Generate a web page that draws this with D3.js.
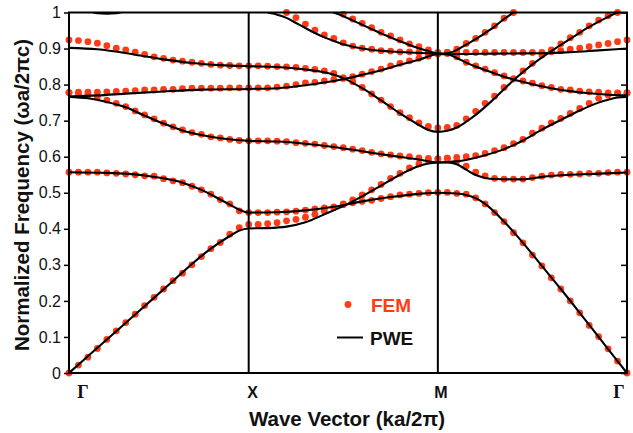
<!DOCTYPE html>
<html>
<head>
<meta charset="utf-8">
<script src="https://cdn.jsdelivr.net/npm/d3@7"></script>
<style>
html,body{margin:0;padding:0;background:#fff;}
svg{display:block;}
</style>
</head>
<body>
<svg id="chart" width="633" height="433"></svg>
<script>
// ---- k-path (index along Γ-X-M-Γ) ----
const kTicks = [0, 19, 39, 59];
const kLabels = ["Γ", "X", "M", "Γ"];
const yTicks = [0, 0.1, 0.2, 0.3, 0.4, 0.5, 0.6, 0.7, 0.8, 0.9, 1];
const yTickLabels = ["0", "0.1", "0.2", "0.3", "0.4", "0.5", "0.6", "0.7", "0.8", "0.9", "1"];

// ---- FEM results (dots), one value per k index 0..59 ----
const femA = [
0, 0.022, 0.044, 0.068, 0.093, 0.117, 0.140, 0.163, 0.187, 0.210,
0.233, 0.256, 0.277, 0.300, 0.323, 0.345, 0.362, 0.385, 0.403, 0.412,
0.412, 0.414, 0.417, 0.422, 0.426, 0.432, 0.440, 0.449, 0.459, 0.469,
0.480, 0.494, 0.508, 0.523, 0.540, 0.554, 0.569, 0.580, 0.589, 0.594,
0.596, 0.598, 0.600, 0.603, 0.609, 0.617, 0.625, 0.636, 0.648, 0.665,
0.679, 0.694, 0.706, 0.720, 0.734, 0.748, 0.762, 0.771, 0.777, 0.778];
const femB = [
0.557, 0.557, 0.557, 0.557, 0.555, 0.554, 0.552, 0.550, 0.547, 0.546,
0.539, 0.533, 0.528, 0.518, 0.508, 0.496, 0.481, 0.469, 0.450, 0.445,
0.445, 0.445, 0.446, 0.447, 0.449, 0.452, 0.455, 0.458, 0.461, 0.467,
0.472, 0.476, 0.479, 0.484, 0.489, 0.494, 0.496, 0.498, 0.500, 0.501,
0.501, 0.498, 0.496, 0.486, 0.469, 0.445, 0.420, 0.389, 0.361, 0.327,
0.297, 0.264, 0.233, 0.200, 0.167, 0.132, 0.101, 0.067, 0.033, 0];
const femC = [
0.778, 0.774, 0.771, 0.766, 0.757, 0.748, 0.739, 0.727, 0.716, 0.705,
0.693, 0.683, 0.674, 0.667, 0.662, 0.655, 0.652, 0.648, 0.645, 0.644,
0.644, 0.644, 0.643, 0.642, 0.639, 0.637, 0.635, 0.631, 0.628, 0.625,
0.621, 0.617, 0.612, 0.608, 0.605, 0.602, 0.600, 0.597, 0.595, 0.594,
0.596, 0.588, 0.574, 0.557, 0.547, 0.540, 0.538, 0.538, 0.538, 0.542,
0.546, 0.549, 0.551, 0.551, 0.552, 0.554, 0.554, 0.556, 0.557, 0.557];
const femD = [
0.778, 0.779, 0.779, 0.779, 0.780, 0.781, 0.782, 0.783, 0.785, 0.785,
0.787, 0.787, 0.789, 0.790, 0.790, 0.790, 0.790, 0.791, 0.791, 0.791,
0.791, 0.791, 0.793, 0.796, 0.800, 0.805, 0.806, 0.810, 0.814, 0.817,
0.822, 0.829, 0.836, 0.843, 0.852, 0.859, 0.866, 0.873, 0.879, 0.885,
0.889, 0.889, 0.889, 0.889, 0.889, 0.889, 0.889, 0.889, 0.889, 0.889,
0.889, 0.891, 0.894, 0.898, 0.901, 0.905, 0.910, 0.914, 0.919, 0.924];
const femE = [
0.924, 0.922, 0.919, 0.915, 0.908, 0.901, 0.896, 0.890, 0.884, 0.877,
0.873, 0.868, 0.865, 0.862, 0.859, 0.856, 0.854, 0.853, 0.852, 0.852,
0.852, 0.851, 0.850, 0.849, 0.848, 0.845, 0.842, 0.838, 0.831, 0.819,
0.808, 0.792, 0.774, 0.757, 0.739, 0.722, 0.708, 0.694, 0.684, 0.680,
0.681, 0.687, 0.705, 0.726, 0.748, 0.768, 0.792, 0.816, 0.838, 0.859,
0.882, 0.896, 0.913, 0.930, 0.945, 0.963, 0.979, 0.991, 1.000, null];
const femF = [
null, null, null, null, null, null, null, null, null, null,
null, null, null, null, null, null, null, null, null, null,
null, null, null, 1.000, 0.986, 0.968, 0.951, 0.938, 0.928, 0.916,
0.907, 0.901, 0.898, 0.894, 0.893, 0.891, 0.891, 0.889, 0.889, 0.887,
0.886, 0.877, 0.862, 0.852, 0.843, 0.833, 0.824, 0.816, 0.810, 0.804,
0.797, 0.792, 0.787, 0.785, 0.782, 0.780, 0.779, 0.777, 0.776, 0.776];
const femG = [
null, null, null, null, null, null, null, null, null, null,
null, null, null, null, null, null, null, null, null, null,
null, null, null, null, null, null, null, null, null, 0.995,
0.982, 0.970, 0.958, 0.945, 0.935, 0.924, 0.913, 0.905, 0.896, 0.889,
0.889, 0.898, 0.914, 0.928, 0.945, 0.963, 0.984, 1.000, null, null,
null, null, null, null, null, null, null, null, null, null];

// ---- PWE results (lines), [k index, frequency] ----
const pweA = [[0,0],[5,0.116],[10,0.232],[15,0.345],[17,0.380],[18,0.395],[19,0.401],[21,0.402],[23,0.406],[25,0.418],[27,0.440],[29,0.463],[31,0.490],[33,0.520],[35,0.550],[37,0.574],[38,0.581],[39,0.584],[40,0.585],[41,0.587],[42,0.591],[43,0.597],[44,0.604],[45,0.612],[46,0.621],[47,0.632],[48,0.645],[50,0.675],[52,0.702],[54,0.728],[56,0.750],[57,0.758],[58,0.764],[59,0.766]];
const pweB = [[0,0.557],[4,0.555],[8,0.548],[10,0.540],[12,0.528],[14,0.508],[16,0.481],[17,0.467],[18,0.453],[19,0.445],[22,0.446],[25,0.451],[28,0.461],[31,0.476],[34,0.488],[37,0.497],[39,0.500],[41,0.498],[42,0.494],[43,0.485],[44,0.469],[46,0.420],[48,0.361],[50,0.297],[52,0.233],[54,0.167],[56,0.100],[58,0.033],[59,0]];
const pweC = [[0,0.766],[2,0.762],[4,0.752],[6,0.737],[8,0.714],[10,0.692],[12,0.673],[14,0.660],[16,0.651],[19,0.644],[22,0.642],[25,0.636],[28,0.627],[31,0.615],[34,0.603],[37,0.592],[39,0.584],[40,0.584],[41,0.579],[42,0.564],[43,0.549],[44,0.541],[45,0.538],[48,0.537],[50,0.544],[53,0.550],[56,0.553],[59,0.556]];
const pweD = [[0,0.767],[3,0.770],[6,0.775],[10,0.781],[14,0.786],[19,0.788],[22,0.790],[25,0.798],[27,0.806],[29,0.815],[31,0.827],[33,0.840],[35,0.855],[37,0.869],[39,0.884],[45,0.886],[50,0.887],[53,0.890],[56,0.895],[59,0.900]];
const pweE = [[0,0.902],[3,0.898],[7,0.883],[10,0.870],[13,0.860],[16,0.854],[19,0.851],[22,0.849],[25,0.842],[27,0.834],[29,0.818],[31,0.790],[33,0.756],[35,0.720],[37,0.688],[38,0.674],[39,0.669],[40,0.672],[41,0.681],[42,0.697],[43,0.716],[45,0.762],[47,0.812],[49,0.856],[51,0.893],[53,0.927],[55,0.960],[57,0.988],[58,1.0],[59,1.008]];
const pweFtop = [[2,1.004],[3,0.998],[4,0.997],[5,0.998],[6,1.004]];
const pweF = [[20,1.012],[21,1.001],[22,0.994],[23,0.985],[24,0.971],[25,0.957],[26,0.943],[27,0.931],[28,0.921],[29,0.912],[30,0.905],[31,0.900],[32,0.896],[34,0.892],[36,0.889],[39,0.886],[40,0.884],[41,0.874],[42,0.861],[43,0.850],[45,0.831],[47,0.814],[49,0.801],[51,0.790],[53,0.782],[55,0.776],[57,0.772],[59,0.770]];
const pweG = [[27,1.012],[28,1.0],[29,0.99],[30,0.978],[31,0.966],[32,0.954],[33,0.942],[34,0.931],[35,0.92],[36,0.91],[37,0.901],[38,0.893],[39,0.886],[40,0.887],[41,0.896],[42,0.911],[43,0.926],[44,0.943],[45,0.961],[46,0.982],[47,1.0],[48,1.02]];

const femSeries = [femA, femB, femC, femD, femE, femF, femG];
const pweSeries = [pweA, pweB, pweC, pweD, pweE, pweFtop, pweF, pweG];

// ---- layout ----
const L = 69, R = 627, T = 12.5, B = 373;
const RED = "#ff3b16";
const FONT = "'Liberation Sans', Arial, Helvetica, sans-serif";

const svg = d3.select("#chart");
const x = d3.scaleLinear().domain([0, 59]).range([L, R]);
const y = d3.scaleLinear().domain([0, 1]).range([B, T]);

svg.append("defs").append("clipPath").attr("id", "clip")
  .append("rect").attr("x", L).attr("y", T).attr("width", R - L).attr("height", B - T);

// FEM dots
const dotsG = svg.append("g");
femSeries.forEach(arr => {
  dotsG.selectAll(null)
    .data(arr.map((v, i) => [i, v]).filter(d => d[1] !== null))
    .enter().append("circle")
    .attr("cx", d => x(d[0])).attr("cy", d => y(d[1]))
    .attr("r", 3.4).attr("fill", RED);
});

// PWE lines
const line = d3.line().x(d => x(d[0])).y(d => y(d[1])).curve(d3.curveMonotoneX);
const linesG = svg.append("g").attr("clip-path", "url(#clip)");
pweSeries.forEach(arr => {
  linesG.append("path").attr("d", line(arr))
    .attr("fill", "none").attr("stroke", "#000").attr("stroke-width", 2.1);
});

// vertical lines at X and M
svg.append("g").selectAll("line").data([kTicks[1], kTicks[2]]).enter().append("line")
  .attr("x1", d => x(d)).attr("x2", d => x(d)).attr("y1", T).attr("y2", B)
  .attr("stroke", "#000").attr("stroke-width", 2);

// frame
svg.append("rect").attr("x", L).attr("y", T).attr("width", R - L).attr("height", B - T)
  .attr("fill", "none").attr("stroke", "#000").attr("stroke-width", 2);

// left axis (ticks outside)
const yAxisL = d3.axisLeft(y).tickValues(yTicks).tickSize(5).tickPadding(3)
  .tickFormat((d, i) => yTickLabels[i]);
const gL = svg.append("g").attr("transform", `translate(${L},0)`).call(yAxisL);
gL.select(".domain").remove();
gL.selectAll(".tick line").attr("stroke", "#000").attr("stroke-width", 1.5);
gL.selectAll(".tick text").attr("font-family", FONT).attr("font-size", 16).attr("fill", "#111");

// right axis ticks (inside)
const yAxisR = d3.axisLeft(y).tickValues(yTicks).tickSize(6).tickFormat("");
const gR = svg.append("g").attr("transform", `translate(${R},0)`).call(yAxisR);
gR.select(".domain").remove();
gR.selectAll(".tick line").attr("stroke", "#000").attr("stroke-width", 1.5);

// k labels
const kOffsets = [14, 4, 3, -8];
svg.append("g").selectAll("text").data(kLabels).enter().append("text")
  .attr("x", (d, i) => x(kTicks[i]) + kOffsets[i])
  .attr("y", 398)
  .attr("text-anchor", "middle")
  .attr("font-family", d => d === "Γ" ? "'Liberation Serif', 'Times New Roman', serif" : FONT)
  .attr("font-weight", "bold")
  .attr("font-size", d => d === "Γ" ? 18 : 16)
  .attr("fill", "#111")
  .text(d => d);

// axis titles
svg.append("text").attr("x", 347).attr("y", 426).attr("text-anchor", "middle")
  .attr("font-family", FONT).attr("font-weight", "bold").attr("font-size", 20.5).attr("fill", "#111")
  .text("Wave Vector (ka/2π)");
svg.append("text").attr("transform", "translate(29,195) rotate(-90)").attr("text-anchor", "middle")
  .attr("font-family", FONT).attr("font-weight", "bold").attr("font-size", 20.5).attr("fill", "#111")
  .text("Normalized Frequency (ωa/2πc)");

// legend
const lg = svg.append("g");
lg.append("circle").attr("cx", 348).attr("cy", 304.5).attr("r", 3.4).attr("fill", RED);
lg.append("text").attr("x", 371).attr("y", 312).attr("font-family", FONT).attr("font-weight", "bold")
  .attr("font-size", 19).attr("fill", RED).text("FEM");
lg.append("line").attr("x1", 337).attr("x2", 363).attr("y1", 337.5).attr("y2", 337.5)
  .attr("stroke", "#000").attr("stroke-width", 2);
lg.append("text").attr("x", 370).attr("y", 345).attr("font-family", FONT).attr("font-weight", "bold")
  .attr("font-size", 19).attr("fill", "#111").text("PWE");
</script>
</body>
</html>
